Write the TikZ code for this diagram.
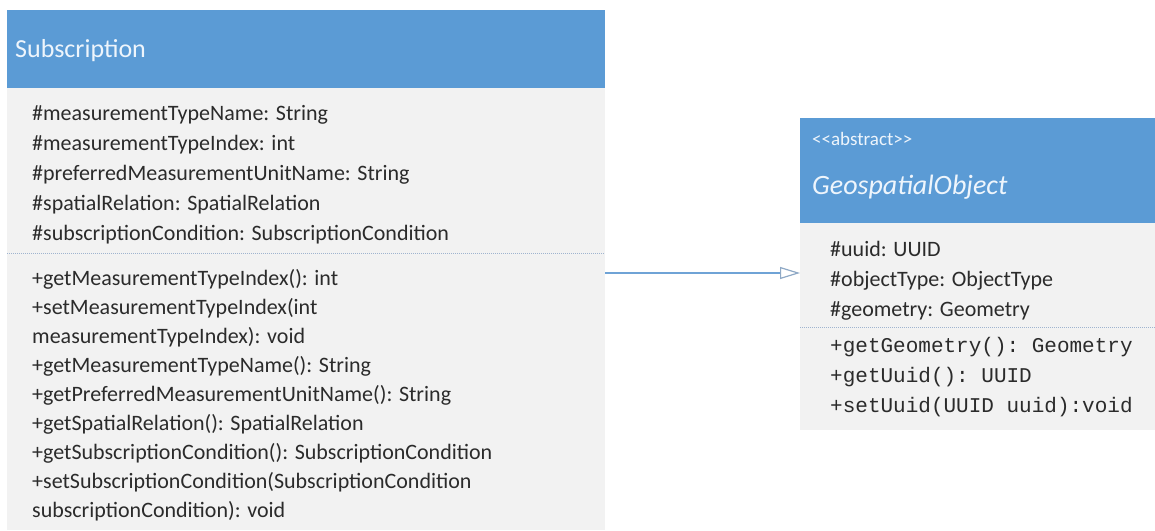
\documentclass[tikz,border=0pt]{standalone}
\usepackage{fontspec}
\setmainfont{Carlito}
\setmonofont{Liberation Mono}
\usetikzlibrary{positioning,arrows.meta,calc}
\definecolor{hdblue}{HTML}{5B9BD5}
\definecolor{hdtext}{HTML}{EEF5FC}
\definecolor{bdgray}{HTML}{F2F2F2}
\definecolor{txgray}{HTML}{2B2B2B}
\definecolor{sepblue}{HTML}{9FB4CF}
\definecolor{lnblue}{HTML}{6FA3D6}
\definecolor{tipgray}{HTML}{8FA9C6}

\begin{document}
\begin{tikzpicture}[x=1pt,y=-1pt,
  box/.style={anchor=north west,inner sep=0pt,outer sep=0pt},
  txt/.style={anchor=north west,inner sep=0pt,align=left,text=txgray,font=\fontsize{22}{30}\selectfont},
  sep/.style={draw=sepblue,line width=1pt,dash pattern=on 1pt off 1pt}]
 \useasboundingbox[fill=white] (0,0) rectangle (1155,530);
 % class Subscription
 \node[box,fill=hdblue,minimum width=598pt,minimum height=78pt] (subhead) at (7,10) {};
 \node[box,fill=bdgray,minimum width=598pt,minimum height=442pt] (subbody) at (subhead.south west) {};
 \node[anchor=base west,inner sep=0pt,text=hdtext,font=\fontsize{26}{26}\selectfont] (subname) at (15,57) {Subscription};
 \node[txt] (subattr) at (32,105) {\#measurementTypeName: String\\
   \#measurementTypeIndex: int\\
   \#preferredMeasurementUnitName: String\\
   \#spatialRelation: SpatialRelation\\
   \#subscriptionCondition: SubscriptionCondition};
 \coordinate (subsep) at (0,253);
 \draw[sep] (subbody.west |- subsep) -- (subbody.east |- subsep);
 \node[txt,font=\fontsize{22}{29}\selectfont] (subops) at (32,269) {+getMeasurementTypeIndex(): int\\
   +setMeasurementTypeIndex(int\\
   measurementTypeIndex): void\\
   +getMeasurementTypeName(): String\\
   +getPreferredMeasurementUnitName(): String\\
   +getSpatialRelation(): SpatialRelation\\
   +getSubscriptionCondition(): SubscriptionCondition\\
   +setSubscriptionCondition(SubscriptionCondition\\
   subscriptionCondition): void};
 %
 % class GeospatialObject
 \node[box,fill=hdblue,minimum width=355pt,minimum height=105pt] (geohead) at (800,118) {};
 \node[box,fill=bdgray,minimum width=355pt,minimum height=207pt] (geobody) at (geohead.south west) {};
 \node[anchor=base west,inner sep=0pt,text=hdtext,font=\fontsize{19}{19}\selectfont] (geostereo) at (812,145) {<\kern0pt<abstract>\kern0pt>};
 \node[anchor=base west,inner sep=0pt,text=hdtext,font=\fontsize{28}{28}\selectfont\itshape] (geoname) at (812,194) {GeospatialObject};
 \node[txt] (geoattr) at (830,241) {\#uuid: UUID\\
   \#objectType: ObjectType\\
   \#geometry: Geometry};
 \coordinate (geosep) at (0,327);
 \draw[sep] (geobody.west |- geosep) -- (geobody.east |- geosep);
 \node[txt,font=\ttfamily\fontsize{21}{30}\selectfont] (geoops) at (830,337) {+getGeometry(): Geometry\\
   +getUuid(): UUID\\
   +setUuid(UUID uuid):void};
 %
 % generalisation
 \coordinate (gen) at (0,273);
 \draw[lnblue,line width=1.2pt,-{Triangle[open,length=20pt,width=12pt,color=tipgray]}] (subbody.east |- gen) -- (geobody.west |- gen);
\end{tikzpicture}
\end{document}
